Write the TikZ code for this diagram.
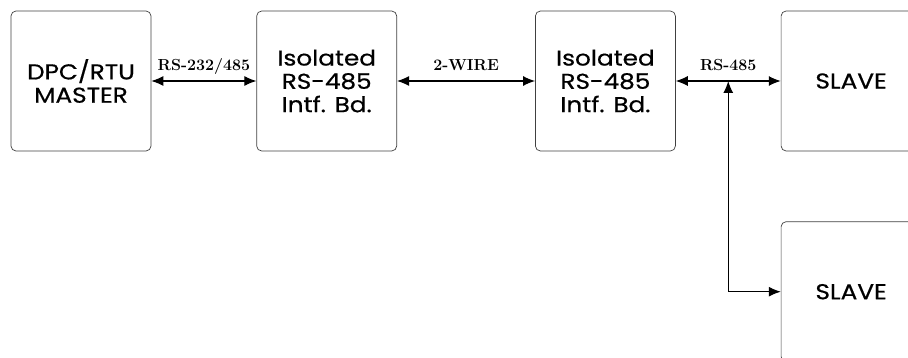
\documentclass[tikz,border=0pt]{standalone}
\usepackage{fontspec}
\newfontfamily\boxfont[FakeStretch=1.15, FakeBold=0.6]{Poppins}
\usetikzlibrary{arrows.meta, positioning}

\begin{document}
\begin{tikzpicture}[node distance=105pt, box/.style={draw=black!75, line width=0.7pt, rounded corners=5pt, align=center, minimum width=140pt, minimum height=140pt, font=\boxfont\fontsize{21.5}{23.3}\selectfont}, duplex/.style={{Latex[length=12pt,width=10pt]}-{Latex[length=12pt,width=10pt]}, line width=1.1pt}, wire/.style={anchor=base, yshift=10pt, inner sep=0pt, font=\bfseries\fontsize{16}{18}\selectfont}]

\useasboundingbox (0,0) rectangle (908pt,-358pt);
\node[box] (master) at (81pt,-81pt) {DPC/RTU\\MASTER};
\node[box, right=of master] (isoA) {Isolated\\RS-485\\Intf. Bd.};
\node[box, right=138pt of isoA] (isoB) {Isolated\\RS-485\\Intf. Bd.};
\node[box, right=of isoB] (slaveA) {SLAVE};
\node[box, below=70pt of slaveA] (slaveB) {SLAVE};
\draw[duplex] (master) -- node[wire]{RS-232/485} (isoA);\draw[duplex] (isoA) -- node[wire]{2-WIRE} (isoB);\draw[duplex] (isoB) -- coordinate (tap) node[wire]{RS-485} (slaveA);
\draw[duplex] (tap) |- (slaveB.west);

\end{tikzpicture}
\end{document}
